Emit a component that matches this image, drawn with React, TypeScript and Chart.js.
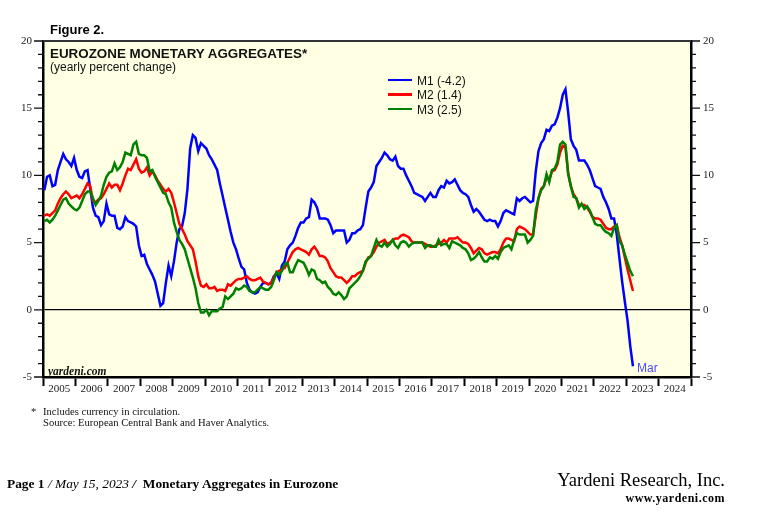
import React, { useEffect, useRef } from "react";
import { Chart, registerables } from "chart.js";

Chart.register(...registerables);

const START_YEAR = 2005;
const END_YEAR = 2025;
const Y_MIN = -5;
const Y_MAX = 20;

const yearLabels = [
  "2005", "2006", "2007", "2008", "2009", "2010", "2011", "2012", "2013", "2014",
  "2015", "2016", "2017", "2018", "2019", "2020", "2021", "2022", "2023", "2024",
];

// Monthly yearly % change, Jan 2005 .. Mar 2023
const m1 = [
  8.9, 9.9, 10.0, 9.2, 9.3, 10.4, 11.0, 11.6, 11.2, 11.0, 10.7, 11.3,
  10.4, 9.9, 9.8, 10.3, 10.4, 9.0, 7.6, 7.0, 6.9, 6.3, 6.6, 7.9,
  7.1, 7.0, 7.0, 6.1, 6.0, 6.2, 6.9, 6.6, 6.5, 6.4, 6.2, 4.8,
  4.0, 4.1, 3.4, 3.0, 2.6, 2.1, 1.2, 0.3, 0.5, 2.0, 3.3, 2.5,
  3.6, 5.0, 6.0, 6.2, 7.2, 9.0, 12.0, 13.0, 12.8, 11.8, 12.4, 12.2,
  12.0, 11.5, 11.2, 10.8, 10.4, 9.4, 8.5, 7.6, 6.7, 5.8, 5.0, 4.5,
  3.8, 3.2, 3.0, 2.0, 1.5, 1.3, 1.2, 1.3, 1.7, 2.0, 2.0, 1.9,
  2.0, 2.5, 2.7, 2.3, 3.3, 3.6, 4.5, 4.8, 5.0, 5.5, 6.1, 6.5,
  6.5, 6.8, 6.9, 8.2, 8.0, 7.6, 6.8, 6.8, 6.8, 6.7, 6.3, 5.7,
  5.9, 5.9, 5.9, 5.9, 5.0, 5.2, 5.7, 5.7, 5.9, 6.0, 6.3, 7.6,
  8.8, 9.1, 9.5, 10.7, 11.0, 11.3, 11.7, 11.5, 11.2, 11.1, 11.4, 10.7,
  10.5, 10.5, 10.0, 9.6, 9.2, 8.7, 8.6, 8.5, 8.4, 8.1, 8.4, 8.7,
  8.4, 8.4, 8.9, 9.2, 9.1, 9.6, 9.4, 9.5, 9.7, 9.3, 8.9, 8.7,
  8.6, 8.4, 7.8, 7.3, 7.5, 7.3, 7.0, 6.7, 6.6, 6.7, 6.6, 6.6,
  6.2, 6.6, 7.2, 7.4, 7.3, 7.2, 7.1, 8.3, 8.1, 8.3, 8.4, 8.2,
  8.0, 8.1, 10.3, 11.8, 12.4, 12.7, 13.4, 13.3, 13.7, 13.8, 14.3, 15.0,
  16.0, 16.4, 14.7, 12.7, 12.2, 11.9, 11.1, 11.1, 11.1, 10.8, 10.4, 9.8,
  9.2, 9.1, 9.0, 8.4, 8.0, 7.5, 6.8, 6.8, 5.6, 3.8, 2.1, 0.6,
  -0.8, -2.7, -4.2,
];

const m2 = [
  7.0, 7.1, 7.0, 7.2, 7.4, 7.9, 8.3, 8.6, 8.8, 8.6, 8.3, 8.4,
  8.5, 8.3, 8.6, 9.0, 9.4, 9.2, 8.1, 8.0, 8.2, 8.3, 8.6, 9.0,
  9.4, 9.1, 9.3, 9.3, 8.9, 9.4, 10.0, 10.5, 10.4, 10.8, 11.2, 10.5,
  10.2, 10.3, 10.6, 10.0, 10.3, 10.0, 9.6, 9.3, 9.0, 8.8, 9.0, 8.7,
  8.0, 7.2, 6.4, 6.0, 5.6, 5.1, 4.8, 4.5, 3.6, 2.5, 1.8, 1.7,
  1.9, 1.6, 1.6, 1.7, 1.4, 1.5, 1.5, 1.4, 1.9, 1.8, 2.0, 2.2,
  2.3, 2.3, 2.4, 2.5, 2.3, 2.2, 2.2, 2.3, 2.4, 2.1, 2.0, 1.9,
  2.0, 2.4, 2.8, 2.9, 3.0, 3.1, 3.5, 3.9, 4.3, 4.5, 4.6, 4.5,
  4.4, 4.3, 4.1, 4.5, 4.7, 4.4, 4.0, 4.0, 3.9, 3.6, 3.1, 2.8,
  2.5, 2.4, 2.4, 2.2, 2.0, 2.2, 2.5, 2.5, 2.7, 2.8, 2.9, 3.5,
  3.9, 4.0, 4.3, 4.7, 5.0, 5.1, 5.2, 4.9, 5.0, 5.2, 5.3, 5.3,
  5.5, 5.6, 5.5, 5.4, 5.1, 5.0, 5.0, 5.0, 5.0, 4.9, 4.8, 4.7,
  4.7, 4.8, 4.9, 5.0, 5.2, 5.0, 5.3, 5.3, 5.3, 5.4, 5.2, 5.0,
  5.0, 4.9, 4.6, 4.2, 4.4, 4.6, 4.5, 4.2, 4.1, 4.2, 4.3, 4.3,
  4.2, 4.5, 5.0, 5.3, 5.3, 5.2, 5.1, 6.0, 6.2, 6.1, 6.0, 5.8,
  5.6, 5.6, 7.0, 8.3, 9.0, 9.2, 9.8, 9.7, 10.3, 10.4, 10.8, 11.7,
  12.2, 12.1, 10.2, 9.2, 8.6, 8.3, 7.8, 7.8, 7.8, 7.6, 7.3, 6.9,
  6.8, 6.8, 6.7, 6.4, 6.1, 6.0, 6.0, 6.2, 6.3, 5.4, 4.8, 3.9,
  3.0, 2.2, 1.4,
];

const m3 = [
  6.6, 6.7, 6.5, 6.7, 7.0, 7.4, 7.8, 8.2, 8.3, 7.9, 7.7, 7.5,
  7.4, 7.6, 8.1, 8.6, 8.8, 8.8, 8.3, 7.8, 8.1, 8.5, 9.3, 9.9,
  10.2, 10.3, 10.9, 10.4, 10.6, 11.0, 11.7, 11.6, 11.5, 12.3, 12.5, 11.6,
  11.5, 11.5, 11.3, 10.3, 10.4, 9.9, 9.5, 9.1, 8.7, 8.6, 8.0, 7.6,
  6.5, 5.8, 5.2, 4.9, 4.5, 3.8, 3.1, 2.4, 1.6, 0.5, -0.2, -0.2,
  0.0, -0.4, -0.1, -0.1, -0.1, 0.1, 0.2, 1.0, 0.8, 1.0, 1.2, 1.6,
  1.5, 1.6, 1.8, 1.7, 1.4, 1.3, 1.3, 1.5, 1.7, 1.6, 1.5, 1.5,
  1.7, 2.2, 2.8, 2.6, 2.9, 3.4, 3.5, 2.8, 2.8, 3.3, 3.7, 3.6,
  3.5, 3.1, 2.6, 3.0, 2.9, 2.3, 2.2, 2.0, 2.1, 1.7, 1.5, 1.2,
  1.1, 1.3, 1.1, 0.8, 1.0, 1.6, 1.8, 2.0, 2.2, 2.5, 2.9, 3.6,
  3.8, 4.0, 4.6, 5.2, 4.8, 4.7, 5.0, 4.7, 4.9, 5.2, 4.8, 4.6,
  5.0, 5.1, 5.0, 4.7, 4.9, 5.0, 5.0, 5.0, 5.0, 4.6, 4.8, 4.8,
  4.7, 4.7, 5.2, 4.8, 4.9, 4.9, 4.6, 5.1, 5.0, 4.9, 4.8, 4.6,
  4.5, 4.2, 3.7, 3.8, 4.0, 4.3, 3.9, 3.6, 3.6, 3.9, 3.8, 4.0,
  3.8, 4.3, 4.6, 4.7, 4.8, 4.5, 5.2, 5.7, 5.6, 5.6, 5.6, 5.0,
  5.2, 5.5, 7.4, 8.3, 8.9, 9.2, 10.1, 9.5, 10.4, 10.5, 11.0, 12.3,
  12.5, 12.3, 10.1, 9.2, 8.4, 8.3, 7.6, 7.9, 7.5, 7.7, 7.4, 6.9,
  6.4, 6.3, 6.3, 6.0, 5.8, 5.7, 5.5, 6.1, 6.3, 5.1, 4.8, 4.1,
  3.5, 2.9, 2.5,
];

const seriesNames = ["M1 (-4.2)", "M2 (1.4)", "M3 (2.5)"];
const seriesColors = ["#0000FF", "#FF0000", "#008000"];

const PLOT_BG = "#FFFFE3";
const SERIF = '"Liberation Serif", "Times New Roman", serif';
const SANS = '"Liberation Sans", Arial, sans-serif';

const toPoints = (arr: number[]) =>
  arr.map((v, i) => ({ x: START_YEAR + (i + 0.5) / 12, y: v }));

const decorPlugin = {
  id: "decor",
  beforeDraw(chart: any) {
    const { ctx, chartArea: a } = chart;
    ctx.save();
    ctx.fillStyle = PLOT_BG;
    ctx.fillRect(a.left, a.top, a.right - a.left, a.bottom - a.top);
    ctx.restore();
  },
  afterDraw(chart: any) {
    const { ctx, chartArea: a, scales } = chart;
    const ys = scales.y;
    const xs = scales.x;
    ctx.save();
    ctx.strokeStyle = "#111";
    ctx.lineWidth = 1.3;
    for (let v = Y_MIN; v <= Y_MAX; v++) {
      const py = ys.getPixelForValue(v);
      const major = v % 5 === 0;
      ctx.beginPath();
      ctx.moveTo(a.left - (major ? 9 : 5), py);
      ctx.lineTo(a.left, py);
      ctx.moveTo(a.right, py);
      ctx.lineTo(a.right + (major ? 9 : 5), py);
      ctx.stroke();
    }
    ctx.strokeStyle = "#333";
    ctx.lineWidth = 2;
    ctx.beginPath();
    ctx.moveTo(a.left, a.top);
    ctx.lineTo(a.right, a.top);
    ctx.stroke();

    ctx.fillStyle = "#222";
    ctx.font = `11px ${SERIF}`;
    ctx.textAlign = "center";
    ctx.textBaseline = "middle";
    yearLabels.forEach((lab, i) => {
      ctx.fillText(lab, xs.getPixelForValue(START_YEAR + i + 0.5), a.bottom + 12);
    });
    ctx.restore();
  },
};

export default function App() {
  const ref = useRef<HTMLCanvasElement | null>(null);

  useEffect(() => {
    if (!ref.current) return;
    const yearTicks: number[] = [];
    for (let y = START_YEAR; y <= END_YEAR; y++) yearTicks.push(y);

    const chart = new Chart(ref.current, {
      type: "line",
      data: {
        datasets: [m1, m2, m3].map((arr, i) => ({
          label: seriesNames[i],
          data: toPoints(arr),
          borderColor: seriesColors[i],
          backgroundColor: seriesColors[i],
          borderWidth: 2.5,
          pointRadius: 0,
          tension: 0,
          fill: false,
          order: [2, 1, 0][i],
        })),
      },
      options: {
        responsive: false,
        animation: false,
        events: [],
        layout: { padding: { top: 41, left: 0, right: 0, bottom: 0 } },
        plugins: { legend: { display: false }, tooltip: { enabled: false } },
        scales: {
          x: {
            type: "linear",
            min: START_YEAR,
            max: END_YEAR,
            afterBuildTicks: (scale: any) => {
              scale.ticks = yearTicks.map((v) => ({ value: v }));
            },
            afterFit: (scale: any) => {
              scale.height = 142;
            },
            ticks: { display: false },
            grid: {
              display: true,
              drawOnChartArea: false,
              drawTicks: true,
              tickLength: 9,
              tickWidth: 2,
              tickColor: "#000",
            },
            border: { display: true, color: "#000", width: 2.5 },
          },
          y: {
            position: "left",
            min: Y_MIN,
            max: Y_MAX,
            afterFit: (scale: any) => {
              scale.width = 43;
            },
            ticks: {
              stepSize: 5,
              padding: 11,
              color: "#222",
              font: { family: SERIF, size: 11 },
            },
            grid: {
              display: true,
              drawOnChartArea: true,
              drawTicks: false,
              lineWidth: 1.2,
              color: (c: any) => (c.tick && c.tick.value === 0 ? "#000" : "rgba(0,0,0,0)"),
            },
            border: { display: true, color: "#000", width: 2.5 },
          },
          y2: {
            position: "right",
            min: Y_MIN,
            max: Y_MAX,
            afterFit: (scale: any) => {
              scale.width = 69;
            },
            ticks: {
              stepSize: 5,
              padding: 12,
              color: "#222",
              font: { family: SERIF, size: 11 },
            },
            grid: { display: false, drawTicks: false },
            border: { display: true, color: "#000", width: 2.5 },
          },
        },
      },
      plugins: [decorPlugin],
    } as any);
    return () => chart.destroy();
  }, []);

  const abs = (s: React.CSSProperties): React.CSSProperties => ({
    position: "absolute",
    whiteSpace: "nowrap",
    lineHeight: 1,
    margin: 0,
    ...s,
  });

  return (
    <div
      style={{
        position: "fixed",
        left: 0,
        top: 0,
        width: 760,
        height: 519,
        background: "#fff",
        overflow: "hidden",
      }}
    >
      <canvas
        ref={ref}
        width={760}
        height={519}
        style={{ position: "absolute", left: 0, top: 0, width: 760, height: 519 }}
      />
      <div style={abs({ left: 50, top: 22, font: `bold 13px ${SANS}`, color: "#000" })}>Figure 2.</div>
      <div style={abs({ left: 50, top: 45.8, font: `bold 13.4px ${SANS}`, color: "#111" })}>
        EUROZONE MONETARY AGGREGATES*
      </div>
      <div style={abs({ left: 50, top: 59.5, font: `12px ${SANS}`, color: "#111" })}>
        (yearly percent change)
      </div>
      {seriesNames.map((n, i) => (
        <React.Fragment key={n}>
          <div
            style={{
              position: "absolute",
              left: 388,
              top: 79 + i * 14.5 - 0.25,
              width: 24,
              height: 2.5,
              background: seriesColors[i],
            }}
          />
          <div style={abs({ left: 417, top: 73.8 + i * 14.5, font: `12px ${SANS}`, color: "#111" })}>{n}</div>
        </React.Fragment>
      ))}
      <div style={abs({ left: 48, top: 364.5, font: `italic bold 11.5px ${SERIF}`, color: "#111" })}>
        yardeni.com
      </div>
      <div style={abs({ left: 637, top: 361.3, font: `12px ${SANS}`, color: "#4B4BFF" })}>Mar</div>
      <div style={abs({ left: 31, top: 406, font: `10.6px ${SERIF}`, color: "#111" })}>*</div>
      <div style={abs({ left: 43, top: 406, font: `10.6px ${SERIF}`, color: "#111", lineHeight: "11.5px" })}>
        Includes currency in circulation.
        <br />
        Source: European Central Bank and Haver Analytics.
      </div>
      <div style={abs({ left: 7, top: 475.8, font: `bold 13.4px ${SERIF}`, color: "#000" })}>
        Page 1 <span style={{ fontWeight: "normal", fontStyle: "italic" }}>/ May 15, 2023 </span>
        <span style={{ fontStyle: "italic" }}>/</span>&nbsp; Monetary Aggregates in Eurozone
      </div>
      <div style={abs({ right: 35, top: 470, font: `18.5px ${SERIF}`, color: "#000" })}>
        Yardeni Research, Inc.
      </div>
      <div
        style={abs({ right: 35, top: 491, font: `bold 12px ${SERIF}`, color: "#000", letterSpacing: "0.5px" })}
      >
        www.yardeni.com
      </div>
    </div>
  );
}
